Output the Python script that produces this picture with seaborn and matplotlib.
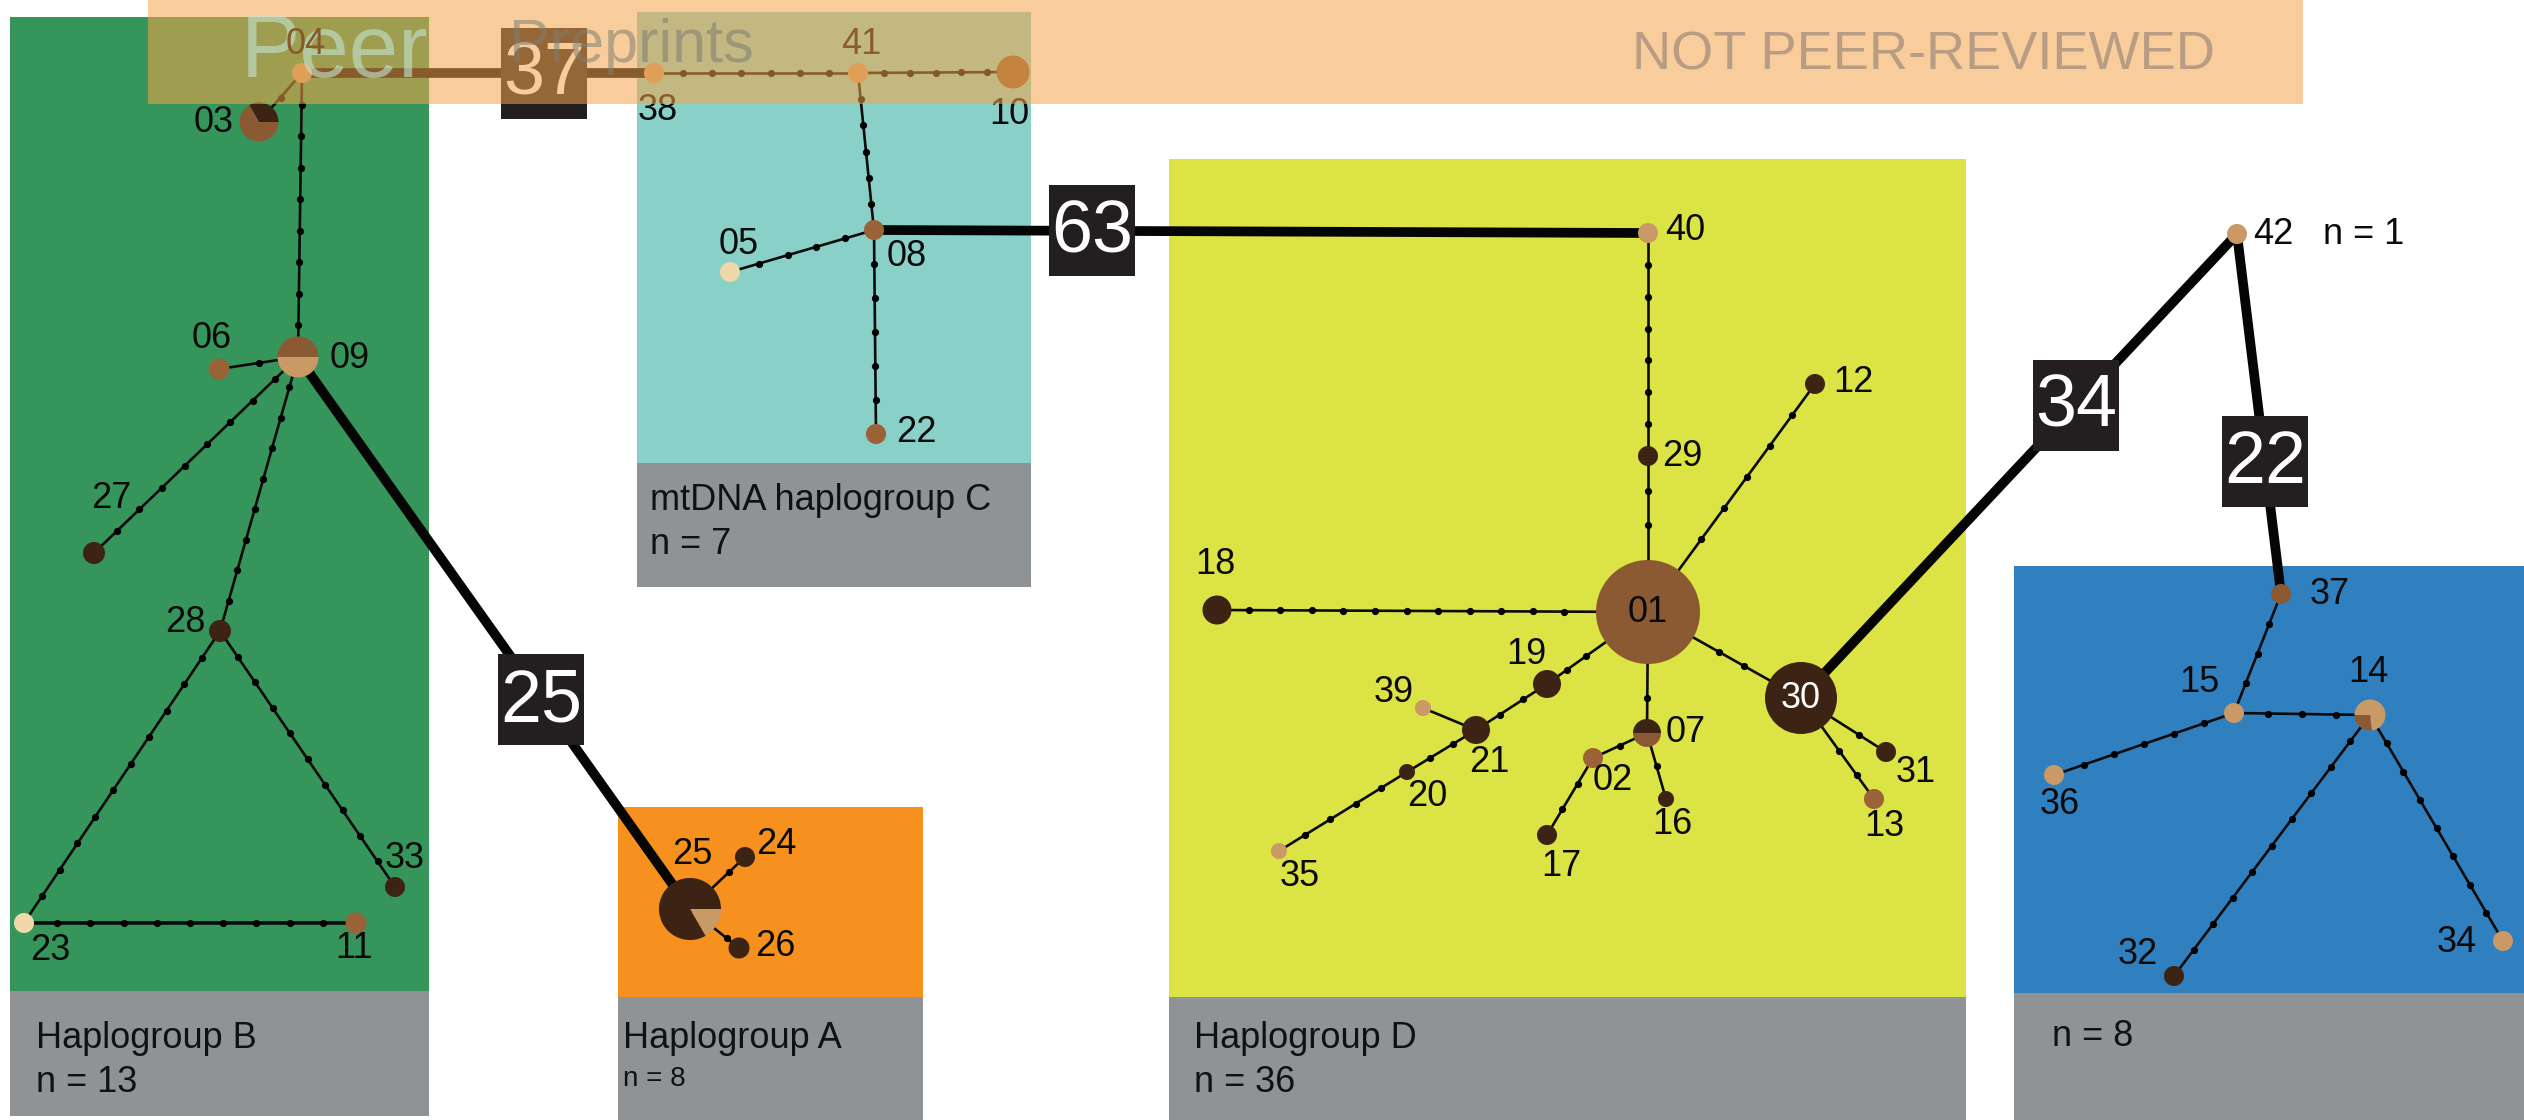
import numpy as np
import pandas as pd
import matplotlib
matplotlib.use("Agg")
import matplotlib.pyplot as plt
from matplotlib.patches import Rectangle, Wedge
from matplotlib import font_manager
import seaborn as sns

# ---------------------------------------------------------------- data
# haplotypes of the median-joining network
haplotypes = ["01", "02", "03", "04", "05", "06", "07", "08", "09", "10",
              "11", "12", "13", "14", "15", "16", "17", "18", "19", "20",
              "21", "22", "23", "24", "25", "26", "27", "28", "29", "30",
              "31", "32", "33", "34", "35", "36", "37", "38", "39", "40",
              "41", "42"]

# colour classes of the pie segments (populations)
DARK, BROWN, MID, TAN, PALE = "#3C2314", "#8B5A33", "#9A6237", "#C99966", "#EFD9A8"

# composition of each haplotype circle: (colours, fractions, start angle)
composition = {
    "01": ([BROWN], [1.0], 0), "02": ([MID], [1.0], 0),
    "03": ([DARK, BROWN], [1 / 3, 2 / 3], 0), "04": ([TAN], [1.0], 0),
    "05": ([PALE], [1.0], 0), "06": ([MID], [1.0], 0),
    "07": ([DARK, BROWN], [0.5, 0.5], 0), "08": ([MID], [1.0], 0),
    "09": ([BROWN, TAN], [0.5, 0.5], 0), "10": ([BROWN], [1.0], 0),
    "11": ([MID], [1.0], 0), "12": ([DARK], [1.0], 0),
    "13": ([MID], [1.0], 0), "14": ([BROWN, TAN], [0.27, 0.73], 180),
    "15": ([TAN], [1.0], 0), "16": ([DARK], [1.0], 0),
    "17": ([DARK], [1.0], 0), "18": ([DARK], [1.0], 0),
    "19": ([DARK], [1.0], 0), "20": ([DARK], [1.0], 0),
    "21": ([DARK], [1.0], 0), "22": ([MID], [1.0], 0),
    "23": ([PALE], [1.0], 0), "24": ([DARK], [1.0], 0),
    "25": ([TAN, DARK], [1 / 6, 5 / 6], -60), "26": ([DARK], [1.0], 0),
    "27": ([DARK], [1.0], 0), "28": ([DARK], [1.0], 0),
    "29": ([DARK], [1.0], 0), "30": ([DARK], [1.0], 0),
    "31": ([DARK], [1.0], 0), "32": ([DARK], [1.0], 0),
    "33": ([DARK], [1.0], 0), "34": ([TAN], [1.0], 0),
    "35": ([TAN], [1.0], 0), "36": ([TAN], [1.0], 0),
    "37": ([BROWN], [1.0], 0), "38": ([TAN], [1.0], 0),
    "39": ([TAN], [1.0], 0), "40": ([TAN], [1.0], 0),
    "41": ([TAN], [1.0], 0), "42": ([TAN], [1.0], 0),
}

# network links: (from, to, number of mutational steps drawn as dots)
edge_from = ["04", "04", "09", "09", "09", "28", "28", "23", "38", "41",
             "41", "08", "08", "25", "25", "40", "29", "01", "01", "01",
             "19", "21", "21", "20", "01", "07", "02", "07", "01", "30",
             "30", "37", "15", "15", "14", "14"]
edge_to = ["03", "09", "06", "27", "28", "23", "33", "11", "41", "10",
           "08", "05", "22", "24", "26", "29", "01", "12", "18", "19",
           "21", "39", "20", "35", "07", "02", "17", "16", "30", "31",
           "13", "15", "14", "36", "32", "34"]
edge_steps = [1, 8, 1, 8, 8, 10, 9, 9, 6, 5,
              5, 4, 5, 1, 1, 6, 2, 5, 11, 2,
              2, 0, 2, 4, 1, 1, 2, 1, 2, 1,
              2, 3, 3, 5, 9, 7]

# long links between haplogroups, labelled with their mutational steps
long_from = ["04", "08", "09", "30", "42"]
long_to = ["38", "40", "25", "42", "37"]
long_steps = [37, 63, 25, 34, 22]

# haplogroup panels
group_names = ["Haplogroup B", "mtDNA haplogroup C", "Haplogroup A", "Haplogroup D", ""]
group_n = [13, 7, 8, 36, 8]

# ---------------------------------------------------------------- layout (pixels)
node_xy = {
    "01": (1648, 612), "02": (1593, 758), "03": (259, 122), "04": (302, 73),
    "05": (730, 272), "06": (219, 369), "07": (1647, 733), "08": (874, 230),
    "09": (298, 357), "10": (1013, 72), "11": (356, 923), "12": (1815, 384),
    "13": (1874, 799), "14": (2370, 715), "15": (2234, 713), "16": (1666, 799),
    "17": (1547, 835), "18": (1217, 610), "19": (1547, 684), "20": (1407, 772),
    "21": (1476, 730), "22": (876, 434), "23": (24, 923), "24": (745, 857),
    "25": (690, 909), "26": (739, 948), "27": (94, 553), "28": (220, 631),
    "29": (1648, 456), "30": (1801, 698), "31": (1886, 752), "32": (2174, 976),
    "33": (395, 887), "34": (2503, 941), "35": (1279, 851), "36": (2054, 775),
    "37": (2281, 594), "38": (654, 73), "39": (1423, 708), "40": (1648, 233),
    "41": (858, 73), "42": (2237, 234),
}
node_r = {h: 10 for h in haplotypes}
node_r.update({"01": 52, "30": 36, "25": 31, "09": 20.5, "03": 19.5, "10": 16.5,
               "14": 15.5, "18": 14.5, "19": 14, "21": 14, "07": 14,
               "06": 10.5, "11": 10.5, "26": 10.5, "27": 11, "28": 11,
               "16": 8, "20": 8, "35": 8, "39": 8})

label_xy = {
    "03": (214, 122), "09": (350, 358), "06": (212, 338),
    "27": (111, 499), "28": (185, 623), "23": (50, 950), "11": (354, 948),
    "33": (405, 858), "25": (692, 855), "24": (776, 844), "26": (775, 946),
    "38": (658, 110), "41": (861, 45), "10": (1009, 115), "05": (739, 245),
    "08": (907, 257), "22": (916, 433), "40": (1685, 231), "29": (1682, 457),
    "12": (1853, 383), "18": (1215, 565), "19": (1526, 654), "39": (1394, 693),
    "21": (1489, 762), "20": (1427, 796), "35": (1300, 876), "07": (1686, 732),
    "02": (1613, 781), "17": (1561, 867), "16": (1672, 825), "31": (1916, 772),
    "13": (1884, 826), "42": (2273, 234), "37": (2330, 594), "15": (2199, 682),
    "14": (2368, 673), "36": (2060, 804), "32": (2138, 954), "34": (2457, 943),
}
# label that sits over the banner lettering
label_04_xy = (306, 45)
long_label_t = [0.6875, 0.2817, 0.621, 0.631, 0.631]

# panel rectangles: (x0, y0, x1, y_grey, y1)
panels = [(10, 17, 429, 991, 1116), (637, 12, 1031, 463, 587),
          (618, 807, 923, 997, 1120), (1169, 159, 1966, 997, 1120),
          (2014, 566, 2524, 993, 1120)]
panel_colors = ["#36955A", "#89D0C8", "#F6901E", "#DCE344", "#3080C0"]
GREY = "#8F9396"

# ---------------------------------------------------------------- drawing
sns.set_theme(style="white")
names = {f.name for f in font_manager.fontManager.ttflist}
BASE = "Liberation Sans" if "Liberation Sans" in names else "DejaVu Sans"
NARROW = "Liberation Sans Narrow" if "Liberation Sans Narrow" in names else None
plt.rcParams["font.family"] = [BASE, "DejaVu Sans"]

W, H = 2524, 1120
fig = plt.figure(figsize=(W / 100, H / 100), dpi=100)
ax = fig.add_axes([0, 0, 1, 1])
ax.set_facecolor("white")

# panels with grey caption strips
for (x0, y0, x1, yg, y1), col in zip(panels, panel_colors):
    ax.add_patch(Rectangle((x0, y0), x1 - x0, yg - y0, facecolor=col,
                           edgecolor="none", zorder=0))
    ax.add_patch(Rectangle((x0, yg), x1 - x0, y1 - yg, facecolor=GREY,
                           edgecolor="none", zorder=0))

TXT = 26
caption_pos = [(36, 1038, 1083), (650, 500, 545), (623, 1038, 1079),
               (1194, 1038, 1083), (2052, None, 1036)]
for (cx, cy1, cy2), name, n in zip(caption_pos, group_names, group_n):
    if name:
        ax.text(cx, cy1, name, fontsize=TXT, ha="left", va="center",
                color="#111111", zorder=6)
    size = 20 if name == "Haplogroup A" else TXT
    ax.text(cx, cy2, f"n = {n}", fontsize=size, ha="left", va="center",
            color="#111111", zorder=6)


def trim(h):
    return node_r[h] if node_r[h] >= 25 else 0.0


# short links and their mutation dots
dots = []
for a, b, n in zip(edge_from, edge_to, edge_steps):
    (xa, ya), (xb, yb) = node_xy[a], node_xy[b]
    lw = 2.6 if (a, b) == ("23", "11") else 1.9
    ax.plot([xa, xb], [ya, yb], color="#0B0B0B", lw=lw,
            solid_capstyle="butt", zorder=2)
    if n:
        p0, p1 = np.array([xa, ya], float), np.array([xb, yb], float)
        u = (p1 - p0) / np.hypot(*(p1 - p0))
        s, e = p0 + u * trim(a), p1 - u * trim(b)
        for t in np.arange(1, n + 1) / (n + 1):
            dots.append(s + (e - s) * t)
dots = pd.DataFrame(dots, columns=["x", "y"])
sns.scatterplot(data=dots, x="x", y="y", ax=ax, s=27, color="black",
                linewidth=0, zorder=3, legend=False)

# long links with step-count boxes
for a, b, n, t in zip(long_from, long_to, long_steps, long_label_t):
    (xa, ya), (xb, yb) = node_xy[a], node_xy[b]
    ax.plot([xa, xb], [ya, yb], color="#050505", lw=7,
            solid_capstyle="butt", zorder=2)
    bx, by = xa + (xb - xa) * t, ya + (yb - ya) * t
    ax.add_patch(Rectangle((bx - 43, by - 45.5), 86, 91, facecolor="#231F20",
                           edgecolor="none", zorder=3))
    ax.text(bx, by + 2, str(n), fontsize=53, color="white", ha="center",
            va="center", zorder=4)

# haplotype circles
for h in haplotypes:
    x, y = node_xy[h]
    cols, fr, start = composition[h]
    ang = start
    for c, f in zip(cols, fr):
        # y axis points down, so angles are mirrored
        ax.add_patch(Wedge((x, y), node_r[h], -(ang + 360 * f), -ang,
                           facecolor=c, edgecolor="none", zorder=5))
        ang += 360 * f

for h, (lx, ly) in label_xy.items():
    ax.text(lx, ly, h, fontsize=TXT, ha="center", va="center",
            color="#0A0A0A", zorder=6)
ax.text(*node_xy["01"], "01", fontsize=TXT, ha="center", va="center",
        color="#0A0A0A", zorder=6)
ax.text(*node_xy["30"], "30", fontsize=TXT, ha="center", va="center",
        color="white", zorder=6)
ax.text(2364, 234, "n = 1", fontsize=TXT, ha="center", va="center",
        color="#0A0A0A", zorder=6)

# preprint banner laid over the top of the figure
ax.add_patch(Rectangle((148, 0), 2155, 104, facecolor="#F4A449", alpha=0.55,
                       edgecolor="none", zorder=10))
peer_font = [NARROW, BASE] if NARROW else [BASE]
ax.text(241, 77, "Peer", fontsize=78 if NARROW else 64, family=peer_font,
        ha="left", va="baseline", color="#C4E6D6", alpha=0.6, zorder=11)
ax.text(509, 62, "Preprints", fontsize=44, ha="left", va="baseline",
        color="#7E7E72", alpha=0.55, zorder=11)
ax.text(1923, 56, "NOT PEER-REVIEWED", fontsize=46 if NARROW else 39,
        family=peer_font, ha="center", va="center", color="#B89D84", zorder=11)
# the "04" label stays readable above the banner lettering (banner-tinted ink)
ax.text(*label_04_xy, "04", fontsize=TXT, ha="center", va="center",
        color="#865A28", zorder=12)

ax.set_xlim(0, W)
ax.set_ylim(H, 0)
ax.set_aspect("auto")
ax.axis("off")
fig.savefig("out.png", dpi=100, facecolor="white")
